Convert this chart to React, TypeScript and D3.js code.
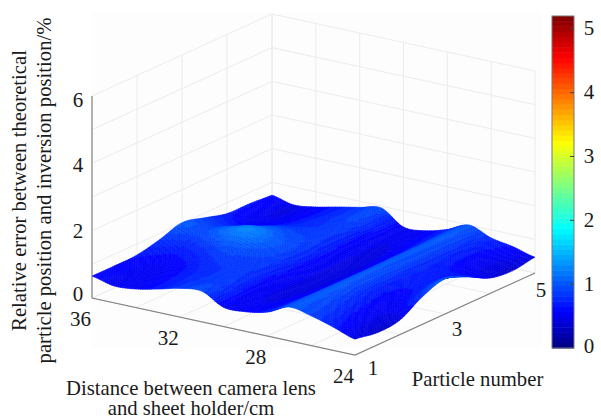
import React, { useEffect, useRef } from "react";
import * as d3 from "d3";

const distances = [36, 35, 34, 33, 32, 31, 30, 29, 28, 27, 26, 25, 24];
const particles = [1, 1.5, 2, 2.5, 3, 3.5, 4, 4.5, 5];
// one row per distance, one value per particle position
const errors = [
  [0.65, 0.65, 0.67, 0.82, 1.02, 0.86, 0.68, 0.67, 0.62],
  [0.5, 0.52, 0.58, 0.72, 0.95, 0.78, 0.55, 0.48, 0.47],
  [0.55, 0.57, 0.62, 0.8, 1.12, 0.88, 0.62, 0.55, 0.55],
  [0.69, 0.7, 0.75, 0.92, 1.25, 1.0, 0.76, 0.7, 0.69],
  [0.85, 0.82, 0.82, 0.9, 1.05, 0.92, 0.82, 0.82, 0.82],
  [0.91, 0.86, 0.82, 0.84, 0.88, 0.85, 0.84, 0.9, 0.94],
  [0.57, 0.55, 0.55, 0.56, 0.58, 0.56, 0.54, 0.53, 0.52],
  [0.58, 0.5, 0.46, 0.43, 0.42, 0.43, 0.47, 0.52, 0.55],
  [0.71, 0.68, 0.64, 0.62, 0.62, 0.64, 0.66, 0.7, 0.73],
  [1.0, 1.0, 1.0, 1.0, 1.0, 1.0, 1.0, 1.0, 1.0],
  [0.88, 0.84, 0.76, 0.7, 0.72, 0.74, 0.72, 0.72, 0.76],
  [0.69, 0.58, 0.52, 0.58, 0.7, 0.7, 0.55, 0.52, 0.64],
  [0.47, 0.36, 0.43, 0.82, 1.04, 0.8, 0.46, 0.37, 0.47],
];
const distanceTicks = [36, 32, 28, 24];
const distanceGrid = [36, 34, 32, 30, 28, 26, 24];
const particleTicks = [1, 3, 5];
const particleGrid = [1, 2, 3, 4, 5];
const errorTicks = [0, 2, 4, 6];
const errorGrid = [0, 1, 2, 3, 4, 5, 6];
const colorTicks = [0, 1, 2, 3, 4, 5];
const jetStops = [0, 0.11, 0.36, 0.62, 0.875, 1];
const jetColors = ["#00007f", "#0000ff", "#00ffff", "#ffff00", "#ff0000", "#7f0000"];

const FONT = "'Liberation Serif', 'Times New Roman', serif";
const LEVELS = 64;
const COLOR_MAX = 5.2;
const SUB = 10;

// oblique projection: each data axis moves the point by a fixed screen vector
const ox = d3.scaleLinear().domain([36, 24]).range([0, 263]);
const oy = d3.scaleLinear().domain([36, 24]).range([0, 57]);
const px = d3.scaleLinear().domain([1, 5]).range([0, 180]);
const py = d3.scaleLinear().domain([1, 5]).range([0, -82]);
const zy = d3.scaleLinear().domain([0, 6]).range([0, -202]);
const project = (d: number, p: number, z: number): [number, number] => [
  92 + ox(d) + px(p),
  298 + oy(d) + py(p) + zy(z),
];

const jetScale = d3
  .scaleLinear<string>()
  .domain(jetStops)
  .range(jetColors)
  .interpolate(d3.interpolateRgb);
const jet = (z: number) => {
  const level = Math.min(LEVELS - 1, Math.floor((z / COLOR_MAX) * LEVELS));
  return jetScale((level + 0.5) / LEVELS);
};

const cr = (a: number, b: number, c: number, d: number, t: number) =>
  0.5 * (2 * b + (c - a) * t + (2 * a - 5 * b + 4 * c - d) * t * t + (3 * b - a - 3 * c + d) * t * t * t);

// smooth the read grid for drawing, the way the surface was shaded
const smooth = (u: number, v: number) => {
  const nI = distances.length - 1;
  const nJ = particles.length - 1;
  const i = Math.min(Math.floor(u), nI - 1);
  const j = Math.min(Math.floor(v), nJ - 1);
  const rowAt = (r: number) => {
    const row = errors[Math.max(0, Math.min(nI, r))];
    const at = (k: number) => row[Math.max(0, Math.min(nJ, k))];
    return cr(at(j - 1), at(j), at(j + 1), at(j + 2), v - j);
  };
  return cr(rowAt(i - 1), rowAt(i), rowAt(i + 1), rowAt(i + 2), u - i);
};

export default function App() {
  const ref = useRef<SVGSVGElement>(null);

  useEffect(() => {
    const svg = d3.select(ref.current);
    svg.selectAll("*").remove();

    svg
      .append("defs")
      .append("filter")
      .attr("id", "soft")
      .append("feGaussianBlur")
      .attr("stdDeviation", 0.6);

    svg.append("rect").attr("x", 92).attr("y", 12).attr("width", 450).attr("height", 336).attr("fill", "#fdfdfd");

    const grid = svg.append("g").attr("stroke", "#ececec").attr("stroke-width", 1).attr("fill", "none");
    const seg = (a: [number, number], b: [number, number]) =>
      grid.append("line").attr("x1", a[0]).attr("y1", a[1]).attr("x2", b[0]).attr("y2", b[1]);

    errorGrid.forEach((z) => {
      seg(project(36, 1, z), project(36, 5, z));
      seg(project(36, 5, z), project(24, 5, z));
    });
    particleGrid.forEach((p) => {
      seg(project(36, p, 0), project(36, p, 6));
      seg(project(36, p, 0), project(24, p, 0));
    });
    distanceGrid.forEach((d) => {
      seg(project(d, 5, 0), project(d, 5, 6));
      seg(project(d, 1, 0), project(d, 5, 0));
    });

    const axes = svg.append("g").attr("stroke", "#858585").attr("stroke-width", 1.2).attr("fill", "none");
    const axisPath = d3.line();
    axes.append("path").attr("d", axisPath([project(36, 1, 6), project(36, 1, 0), project(24, 1, 0), project(24, 5, 0)]));

    // surface, back corner first
    const surface = svg.append("g").attr("filter", "url(#soft)");
    const nI = (distances.length - 1) * SUB;
    const nJ = (particles.length - 1) * SUB;
    const dAt = d3.scaleLinear().domain([0, nI]).range([36, 24]);
    const pAt = d3.scaleLinear().domain([0, nJ]).range([1, 5]);
    const zAt = (i: number, j: number) => smooth(i / SUB, j / SUB);
    for (let i = 0; i < nI; i++) {
      for (let j = nJ - 1; j >= 0; j--) {
        const corners: [number, number][] = [
          [i, j],
          [i + 1, j],
          [i + 1, j + 1],
          [i, j + 1],
        ];
        const zs = corners.map(([a, b]) => zAt(a, b));
        const pts = corners.map(([a, b], k) => project(dAt(a), pAt(b), zs[k]));
        const c = jet(d3.mean(zs) as number);
        surface
          .append("polygon")
          .attr("points", pts.map((q) => q.join(",")).join(" "))
          .attr("fill", c)
          .attr("stroke", c)
          .attr("stroke-width", 0.5);
      }
    }

    const label = (x: number, y: number, s: string, size = 21) =>
      svg
        .append("text")
        .attr("x", x)
        .attr("y", y)
        .attr("text-anchor", "middle")
        .attr("font-family", FONT)
        .attr("font-size", size)
        .attr("fill", "#1a1a1a")
        .text(s);

    errorTicks.forEach((z) => {
      const [x, y] = project(36, 1, z);
      label(x - 14, y + (z === 0 ? 3 : 5 + z), String(z));
    });
    distanceTicks.forEach((d) => {
      const [x, y] = project(d, 1, 0);
      label(x - 11.5, y + 27.5, String(d));
    });
    particleTicks.forEach((p) => {
      const [x, y] = project(24, p, 0);
      label(x + 18 - 3 * (p - 1), y + 20 + p - 1, String(p));
    });

    label(477.5, 386, "Particle number", 20.7);
    label(191, 395, "Distance between camera lens", 20.7);
    label(191, 415, "and sheet holder/cm", 20.7);

    const yTitle = svg.append("g").attr("transform", "translate(0,190.5) rotate(-90)");
    yTitle
      .append("text")
      .attr("y", 26)
      .attr("text-anchor", "middle")
      .attr("font-family", FONT)
      .attr("font-size", 20.7)
      .attr("fill", "#1a1a1a")
      .text("Relative error between theoretical");
    yTitle
      .append("text")
      .attr("y", 51)
      .attr("text-anchor", "middle")
      .attr("font-family", FONT)
      .attr("font-size", 20.7)
      .attr("fill", "#1a1a1a")
      .text("particle position and inversion position/%");

    // colour bar
    const barY = d3.scaleLinear().domain([0, COLOR_MAX]).range([348, 16]);
    const bar = svg.append("g");
    d3.range(LEVELS).forEach((k) => {
      const lo = (k / LEVELS) * COLOR_MAX;
      const hi = ((k + 1) / LEVELS) * COLOR_MAX;
      bar
        .append("rect")
        .attr("x", 552)
        .attr("width", 22)
        .attr("y", barY(hi))
        .attr("height", barY(lo) - barY(hi) + 0.5)
        .attr("fill", jetScale((k + 0.5) / LEVELS));
    });
    bar
      .append("rect")
      .attr("x", 552)
      .attr("y", barY(COLOR_MAX))
      .attr("width", 22)
      .attr("height", barY(0) - barY(COLOR_MAX))
      .attr("fill", "none")
      .attr("stroke", "#777");
    colorTicks.forEach((t) => {
      const y = barY(t);
      if (t > 0) {
        bar.append("line").attr("x1", 570).attr("x2", 574).attr("y1", y).attr("y2", y).attr("stroke", "#444");
      }
      label(589, t === 0 ? y + 5 : y + 6.5, String(t));
    });
  }, []);

  return (
    <svg
      ref={ref}
      width={601}
      height={418}
      style={{ position: "absolute", left: 0, top: 0, background: "#fff" }}
    />
  );
}
